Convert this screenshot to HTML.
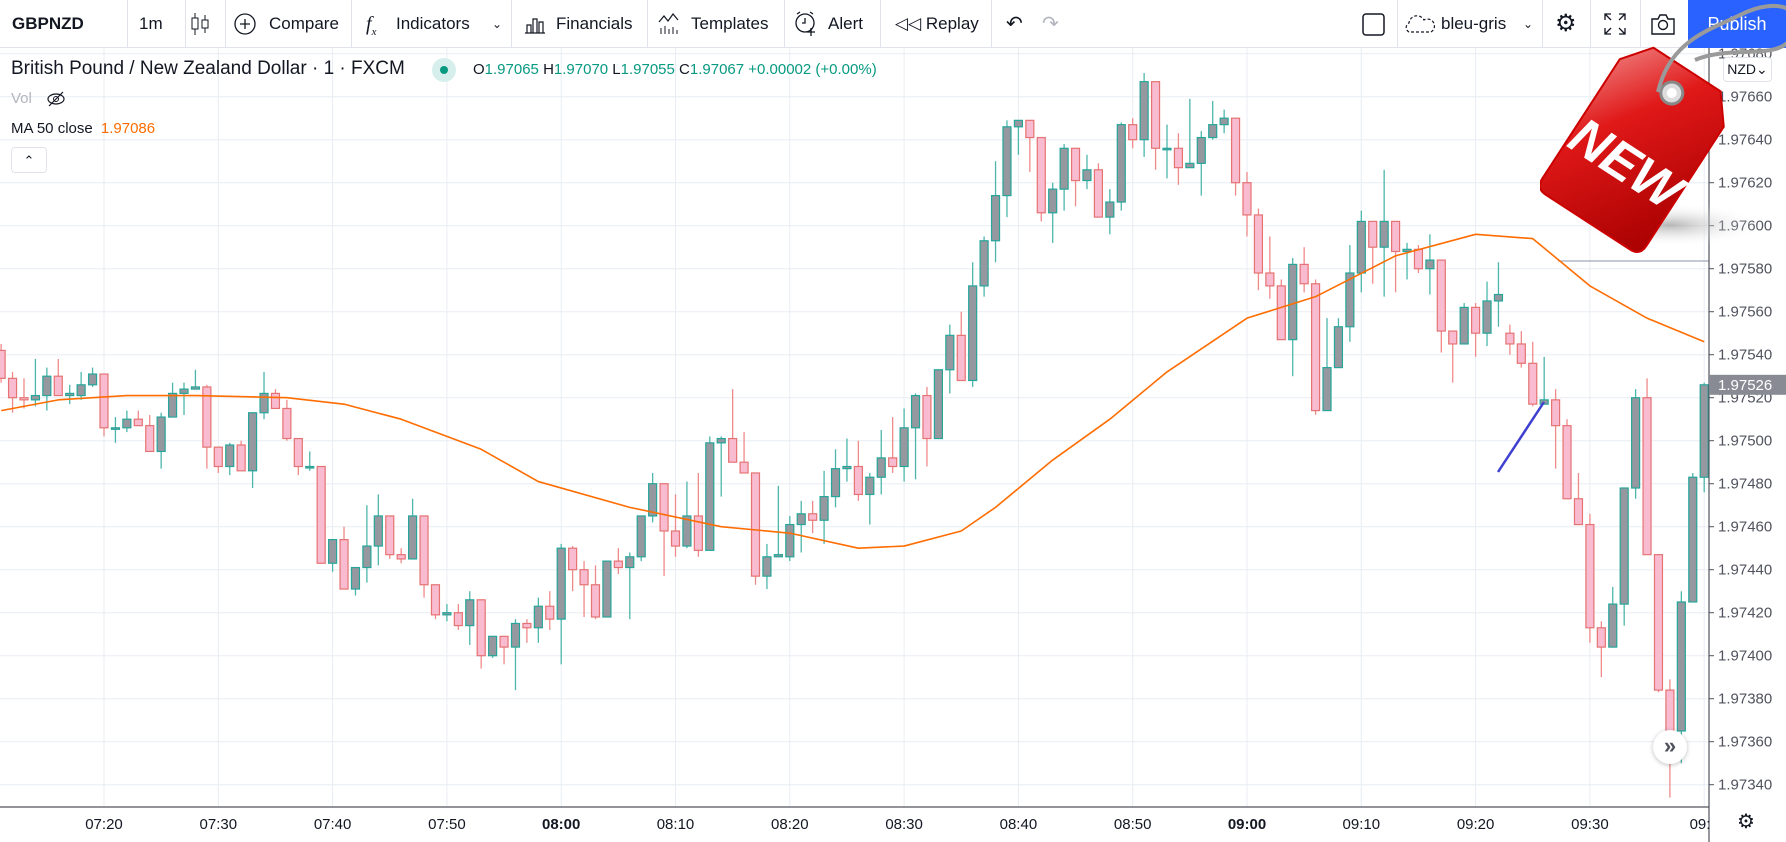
<!DOCTYPE html>
<html><head><meta charset="utf-8"><style>
*{margin:0;padding:0;box-sizing:border-box}
body{width:1786px;height:842px;overflow:hidden;background:#fff;font-family:"Liberation Sans",sans-serif;position:relative;color:#131722}
#toolbar{position:absolute;left:0;top:0;width:1786px;height:48px;border-bottom:1px solid #e0e3eb;background:#fff}
.tb{position:absolute;top:0;height:48px;line-height:48px;font-size:17px;color:#131722;white-space:nowrap}
.sep{position:absolute;top:0;width:1px;height:48px;background:#e0e3eb}
.lg{position:absolute;white-space:nowrap}
</style></head><body>
<div id="toolbar">
 <div class="tb" style="left:12px;font-weight:bold">GBPNZD</div>
 <div class="sep" style="left:127px"></div>
 <div class="tb" style="left:139px">1m</div>
 <div class="sep" style="left:185px"></div>
 <svg class="tb" style="left:190px;top:12px;height:24px" width="20" height="24"><line x1="5" y1="1" x2="5" y2="23" stroke="#131722"/><rect x="2" y="6" width="6" height="11" fill="#fff" stroke="#131722"/><line x1="15" y1="3" x2="15" y2="21" stroke="#131722"/><rect x="12" y="8" width="6" height="8" fill="#fff" stroke="#131722"/></svg>
 <div class="sep" style="left:225px"></div>
 <svg class="tb" style="left:234px;top:13px;height:22px" width="22" height="22"><circle cx="11" cy="11" r="10" fill="none" stroke="#131722" stroke-width="1.3"/><path d="M11 6v10M6 11h10" stroke="#131722" stroke-width="1.3"/></svg>
 <div class="tb" style="left:269px">Compare</div>
 <div class="sep" style="left:351px"></div>
 <div class="tb" style="left:366px;font-style:italic;font-family:'Liberation Serif',serif;font-size:20px">f<sub style="font-size:11px">x</sub></div>
 <div class="tb" style="left:396px">Indicators</div>
 <div class="tb" style="left:492px;font-size:12px">&#8964;</div>
 <div class="sep" style="left:511px"></div>
 <svg class="tb" style="left:524px;top:14px;height:20px" width="22" height="20"><path d="M1 19h20M3 19V11h4v8M9 19V5h4v14M15 19V8h4v11" fill="none" stroke="#131722" stroke-width="1.2"/></svg>
 <div class="tb" style="left:556px">Financials</div>
 <div class="sep" style="left:647px"></div>
 <svg class="tb" style="left:658px;top:12px;height:24px" width="22" height="24"><path d="M1 10l5-6 4 5 5-7 5 6" fill="none" stroke="#131722" stroke-width="1.2"/><path d="M3 22v-6M7 22v-8M11 22v-5M15 22v-7M19 22v-4" stroke="#131722"/></svg>
 <div class="tb" style="left:691px">Templates</div>
 <div class="sep" style="left:784px"></div>
 <svg class="tb" style="left:794px;top:11px;height:26px" width="24" height="26"><circle cx="11" cy="12" r="9" fill="none" stroke="#131722" stroke-width="1.3"/><path d="M11 7v5h-3M3 3l3-2M19 3l-3-2M17 17v8M13 21h8" stroke="#131722" stroke-width="1.3" fill="none"/></svg>
 <div class="tb" style="left:828px">Alert</div>
 <div class="sep" style="left:880px"></div>
 <div class="tb" style="left:895px">&#9665;&#9665; Replay</div>
 <div class="sep" style="left:991px"></div>
 <div class="tb" style="left:1006px;font-size:20px">&#8630;</div>
 <div class="tb" style="left:1042px;font-size:20px;color:#b2b5be">&#8631;</div>
 <svg class="tb" style="left:1362px;top:13px;height:23px" width="23" height="23"><rect x="1" y="1" width="21" height="21" rx="3" fill="none" stroke="#131722" stroke-width="1.5"/></svg>
 <div class="sep" style="left:1397px"></div>
 <svg class="tb" style="left:1404px;top:14px;height:20px" width="32" height="20"><path d="M5 18a5 5 0 0 1 0-9a8 8 0 0 1 15-3a6 6 0 0 1 7 12z" fill="none" stroke="#131722" stroke-width="1.2" stroke-dasharray="3 2"/></svg>
 <div class="tb" style="left:1441px">bleu-gris</div>
 <div class="tb" style="left:1523px;font-size:12px">&#8964;</div>
 <div class="sep" style="left:1542px"></div>
 <div class="tb" style="left:1555px;font-size:24px">&#9881;</div>
 <div class="sep" style="left:1590px"></div>
 <svg class="tb" style="left:1604px;top:13px;height:22px" width="22" height="22"><path d="M1 7V1h6M15 1h6v6M21 15v6h-6M7 21H1v-6M1 1l6 6M21 1l-6 6M21 21l-6-6M1 21l6-6" fill="none" stroke="#131722" stroke-width="1.3"/></svg>
 <div class="sep" style="left:1640px"></div>
 <svg class="tb" style="left:1650px;top:12px;height:24px" width="26" height="24"><path d="M2 7h6l2-4h6l2 4h6v15H2z" fill="none" stroke="#131722" stroke-width="1.4"/><circle cx="13" cy="13" r="4.5" fill="none" stroke="#131722" stroke-width="1.4"/></svg>
 <div class="tb" style="left:1688px;width:98px;background:#2962ff;color:#fff;text-align:center;font-size:18px">Publish</div>
</div>

<svg id="chart" width="1786" height="794" style="position:absolute;left:0;top:48px" viewBox="0 48 1786 794">
 <defs><clipPath id="plotclip"><rect x="0" y="48" width="1709" height="759"/></clipPath></defs>
 <g id="grid"></g>
 <g id="plot" clip-path="url(#plotclip)"></g>
 <g id="yaxis"></g>
 <g id="xaxis"></g>
</svg>

<div class="lg" style="left:11px;top:58px;font-size:19px;color:#131722">British Pound / New Zealand Dollar · 1 · FXCM</div>
<div class="lg" style="left:432px;top:58px;width:24px;height:24px;border-radius:12px;background:#d6efec"><div style="position:absolute;left:8px;top:8px;width:8px;height:8px;border-radius:4px;background:#089981"></div></div>
<div class="lg" style="left:473px;top:61px;font-size:15px;color:#089981"><span style="color:#131722">O</span>1.97065 <span style="color:#131722">H</span>1.97070 <span style="color:#131722">L</span>1.97055 <span style="color:#131722">C</span>1.97067 +0.00002 (+0.00%)</div>
<div class="lg" style="left:11px;top:90px;font-size:15px;color:#b2b5be">Vol</div>
<svg class="lg" style="left:46px;top:90px" width="20" height="18"><ellipse cx="10" cy="9" rx="8" ry="5" fill="none" stroke="#131722" stroke-width="1.2"/><circle cx="10" cy="9" r="2.5" fill="none" stroke="#131722"/><line x1="3" y1="16" x2="17" y2="2" stroke="#131722" stroke-width="1.2"/></svg>
<div class="lg" style="left:11px;top:120px;font-size:15px;color:#131722">MA 50 close <span style="color:#ff6d00;margin-left:4px">1.97086</span></div>
<div class="lg" style="left:11px;top:147px;width:36px;height:26px;border:1px solid #e0e3eb;border-radius:4px;text-align:center;font-size:13px;line-height:26px">&#8963;</div>
<div class="lg" style="left:1723px;top:57px;width:49px;height:25px;border:1px solid #e0e3eb;border-radius:4px;background:#fff;font-size:14px;line-height:23px;text-align:center;color:#131722">NZD&#8964;</div>
<div class="lg" style="left:1653px;top:730px;width:34px;height:34px;border-radius:17px;background:#fff;box-shadow:0 1px 5px rgba(0,0,0,.25);text-align:center;line-height:32px;font-size:22px;color:#50535e;font-weight:bold">»</div>
<div class="lg" style="left:1737px;top:809px;font-size:20px;color:#131722">&#9881;</div>

<svg class="lg" style="left:1540px;top:0" width="246" height="260">
 <defs><linearGradient id="tg" x1="0" y1="0" x2="1" y2="1"><stop offset="0" stop-color="#f08080"/><stop offset="0.35" stop-color="#e01818"/><stop offset="1" stop-color="#a80000"/></linearGradient>
 <radialGradient id="sh"><stop offset="0" stop-color="#999" stop-opacity=".7"/><stop offset="1" stop-color="#fff" stop-opacity="0"/></radialGradient></defs>
 <ellipse cx="130" cy="225" rx="95" ry="22" fill="url(#sh)"/>
 <g transform="translate(98,145) rotate(33)">
  <path d="M-40 -90 L40 -90 L62 -62 L62 80 Q62 92 50 92 L-50 92 Q-62 92 -62 80 L-62 -62 Z" fill="url(#tg)" stroke="#c00" stroke-width="2"/>
  <circle cx="0" cy="-62" r="11" fill="#ddd" stroke="#888" stroke-width="3"/>
  <circle cx="0" cy="-62" r="5" fill="#fff"/>
  <text x="0" y="40" text-anchor="middle" font-family="Liberation Sans,sans-serif" font-weight="bold" font-style="italic" font-size="52" fill="#fff">NEW</text>
 </g>
 <path d="M118 92 C130 40 170 30 200 15 C240 -5 270 10 250 40 C235 60 190 45 155 60" fill="none" stroke="#9a9a9a" stroke-width="4"/>
</svg>

<script>
// ---- chart data ----
const startMinute = 11; // minutes after 07:00 of first candle
const openPrices = [1.97542,1.97529,1.97520,1.97519,1.97521,1.97530,1.97521,1.97521,1.97526,1.97531,1.97506,1.97506,1.97510,1.97507,1.97495,1.97511,1.97522,1.97524,1.97525,1.97497,1.97488,1.97498,1.97486,1.97513,1.97522,1.97515,1.97501,1.97488,1.97488,1.97443,1.97454,1.97431,1.97441,1.97451,1.97465,1.97447,1.97445,1.97465,1.97433,1.97419,1.97420,1.97414,1.97426,1.97400,1.97409,1.97404,1.97415,1.97413,1.97423,1.97417,1.97450,1.97440,1.97433,1.97418,1.97444,1.97441,1.97446,1.97465,1.97480,1.97458,1.97451,1.97465,1.97449,1.97499,1.97501,1.97490,1.97485,1.97437,1.97446,1.97446,1.97461,1.97466,1.97463,1.97474,1.97487,1.97488,1.97475,1.97483,1.97492,1.97488,1.97506,1.97521,1.97501,1.97533,1.97549,1.97528,1.97572,1.97593,1.97614,1.97646,1.97649,1.97641,1.97606,1.97617,1.97636,1.97621,1.97626,1.97604,1.97611,1.97647,1.97640,1.97667,1.97636,1.97636,1.97627,1.97629,1.97641,1.97647,1.97650,1.97620,1.97605,1.97578,1.97572,1.97547,1.97582,1.97573,1.97514,1.97534,1.97553,1.97578,1.97602,1.97590,1.97602,1.97588,1.97589,1.97580,1.97584,1.97551,1.97545,1.97562,1.97550,1.97565,1.97550,1.97545,1.97536,1.97517,1.97519,1.97507,1.97473,1.97461,1.97413,1.97404,1.97424,1.97478,1.97520,1.97447,1.97384,1.97365,1.97425,1.97483];
const highPrices = [1.97545,1.97532,1.97529,1.97538,1.97534,1.97538,1.97526,1.97532,1.97534,1.97531,1.97511,1.97514,1.97514,1.97512,1.97513,1.97527,1.97527,1.97533,1.97526,1.97497,1.97499,1.97500,1.97513,1.97532,1.97524,1.97519,1.97501,1.97495,1.97488,1.97454,1.97460,1.97441,1.97470,1.97475,1.97465,1.97450,1.97473,1.97465,1.97433,1.97424,1.97424,1.97430,1.97426,1.97409,1.97409,1.97417,1.97417,1.97427,1.97430,1.97452,1.97451,1.97444,1.97442,1.97444,1.97450,1.97448,1.97465,1.97485,1.97480,1.97475,1.97481,1.97485,1.97502,1.97502,1.97524,1.97504,1.97485,1.97452,1.97479,1.97465,1.97472,1.97472,1.97486,1.97496,1.97501,1.97500,1.97485,1.97505,1.97511,1.97515,1.97522,1.97525,1.97533,1.97554,1.97560,1.97583,1.97595,1.97630,1.97649,1.97649,1.97649,1.97641,1.97620,1.97638,1.97636,1.97633,1.97629,1.97617,1.97648,1.97650,1.97671,1.97667,1.97647,1.97643,1.97659,1.97644,1.97658,1.97654,1.97650,1.97625,1.97608,1.97595,1.97575,1.97585,1.97590,1.97575,1.97557,1.97557,1.97591,1.97607,1.97602,1.97626,1.97602,1.97592,1.97591,1.97596,1.97584,1.97551,1.97564,1.97564,1.97574,1.97583,1.97554,1.97551,1.97546,1.97539,1.97524,1.97510,1.97485,1.97466,1.97416,1.97432,1.97478,1.97524,1.97529,1.97447,1.97389,1.97430,1.97485,1.97527];
const lowPrices = [1.97527,1.97513,1.97515,1.97516,1.97514,1.97521,1.97517,1.97519,1.97525,1.97502,1.97499,1.97504,1.97507,1.97495,1.97487,1.97511,1.97512,1.97524,1.97487,1.97485,1.97484,1.97486,1.97478,1.97510,1.97515,1.97500,1.97484,1.97486,1.97443,1.97439,1.97431,1.97428,1.97434,1.97442,1.97445,1.97443,1.97445,1.97427,1.97417,1.97416,1.97412,1.97405,1.97394,1.97399,1.97396,1.97384,1.97406,1.97406,1.97412,1.97396,1.97430,1.97418,1.97417,1.97418,1.97438,1.97417,1.97444,1.97462,1.97437,1.97446,1.97450,1.97446,1.97449,1.97474,1.97490,1.97485,1.97433,1.97431,1.97446,1.97444,1.97448,1.97457,1.97452,1.97469,1.97481,1.97472,1.97461,1.97475,1.97485,1.97481,1.97482,1.97488,1.97501,1.97522,1.97528,1.97525,1.97567,1.97583,1.97604,1.97633,1.97625,1.97602,1.97592,1.97607,1.97609,1.97617,1.97604,1.97596,1.97607,1.97636,1.97632,1.97626,1.97622,1.97619,1.97627,1.97614,1.97640,1.97643,1.97614,1.97595,1.97570,1.97566,1.97547,1.97530,1.97569,1.97512,1.97514,1.97534,1.97546,1.97569,1.97573,1.97567,1.97569,1.97575,1.97578,1.97568,1.97541,1.97527,1.97545,1.97539,1.97544,1.97553,1.97540,1.97534,1.97516,1.97517,1.97487,1.97473,1.97461,1.97406,1.97390,1.97404,1.97414,1.97473,1.97447,1.97383,1.97334,1.97350,1.97425,1.97476];
const closePrices = [1.97529,1.97520,1.97519,1.97521,1.97530,1.97521,1.97522,1.97526,1.97531,1.97506,1.97506,1.97510,1.97507,1.97495,1.97511,1.97522,1.97524,1.97525,1.97497,1.97488,1.97498,1.97486,1.97513,1.97522,1.97515,1.97501,1.97488,1.97488,1.97443,1.97454,1.97431,1.97441,1.97451,1.97465,1.97447,1.97445,1.97465,1.97433,1.97419,1.97420,1.97414,1.97426,1.97400,1.97409,1.97404,1.97415,1.97413,1.97423,1.97417,1.97450,1.97440,1.97433,1.97418,1.97444,1.97441,1.97446,1.97465,1.97480,1.97458,1.97451,1.97465,1.97449,1.97499,1.97501,1.97490,1.97485,1.97437,1.97446,1.97447,1.97461,1.97466,1.97463,1.97474,1.97487,1.97488,1.97475,1.97483,1.97492,1.97488,1.97506,1.97521,1.97501,1.97533,1.97549,1.97528,1.97572,1.97593,1.97614,1.97646,1.97649,1.97641,1.97606,1.97617,1.97636,1.97621,1.97626,1.97604,1.97611,1.97647,1.97640,1.97667,1.97636,1.97636,1.97627,1.97629,1.97641,1.97647,1.97650,1.97620,1.97605,1.97578,1.97572,1.97547,1.97582,1.97573,1.97514,1.97534,1.97553,1.97578,1.97602,1.97590,1.97602,1.97588,1.97589,1.97580,1.97584,1.97551,1.97545,1.97562,1.97550,1.97565,1.97568,1.97545,1.97536,1.97517,1.97519,1.97507,1.97473,1.97461,1.97413,1.97404,1.97424,1.97478,1.97520,1.97447,1.97384,1.97365,1.97425,1.97483,1.97526];
const maMinutes = [11,16,22,28,36,41,46,53,58,66,74,80,86,90,95,98,103,108,113,120,126,133,140,145,150,155,160];
const maValues = [1.97514,1.97519,1.97521,1.97521,1.97520,1.97517,1.97510,1.97496,1.97481,1.97469,1.97460,1.97457,1.97450,1.97451,1.97458,1.97469,1.97491,1.97510,1.97532,1.97557,1.97567,1.97586,1.97596,1.97594,1.97572,1.97557,1.97546];
const priceTicks = [1.97340,1.97360,1.97380,1.97400,1.97420,1.97440,1.97460,1.97480,1.97500,1.97520,1.97540,1.97560,1.97580,1.97600,1.97620,1.97640,1.97660,1.97680];
const timeTickMinutes = [20,30,40,50,60,70,80,90,100,110,120,130,140,150,160];
const timeTickLabels = ["07:20","07:30","07:40","07:50","08:00","08:10","08:20","08:30","08:40","08:50","09:00","09:10","09:20","09:30","09:4"];
const lastPrice = 1.97526;

// ---- axis functions ----
const NS = "http://www.w3.org/2000/svg";
function xOf(m){ return 1247 + (m - 120) * 11.43; }
function yOf(p){ return 311.7 + (1.97560 - p) * 215000; }
function mk(tag, attrs, parent){ const e = document.createElementNS(NS, tag); for (const k in attrs) e.setAttribute(k, attrs[k]); parent.appendChild(e); return e; }

const grid = document.getElementById('grid'), plot = document.getElementById('plot');
const yaxis = document.getElementById('yaxis'), xaxis = document.getElementById('xaxis');
const PR = 1709, PB = 807;

priceTicks.forEach(p => {
  const y = yOf(p);
  const gl = mk('line', {x1:0, x2:PR, y1:y, y2:y, stroke:'#e8edf3', 'stroke-width':1}, grid);
  
  
  mk('line', {x1:PR, x2:PR+5, y1:y, y2:y, stroke:'#50535e'}, yaxis);
  const t = mk('text', {x:1718, y:y+5, 'font-size':15, fill:'#50535e', 'font-family':'Liberation Sans, sans-serif'}, yaxis);
  t.textContent = p.toFixed(5);
  
  
});
timeTickMinutes.forEach((m, i) => {
  const x = xOf(m);
  const gl = mk('line', {x1:x, x2:x, y1:48, y2:PB, stroke:'#e8edf3', 'stroke-width':1}, grid);
  
  
  const bold = timeTickLabels[i] === '08:00' || timeTickLabels[i] === '09:00';
  const t = mk('text', {x:x, y:829, 'text-anchor':'middle', 'font-size':15, fill:'#131722', 'font-weight': bold ? 'bold' : 'normal', 'font-family':'Liberation Sans, sans-serif'}, xaxis);
  t.textContent = timeTickLabels[i];
  
  
});
mk('rect', {x:PR+1, y:PB-2, width:80, height:40, fill:'#fff'}, xaxis);
mk('line', {x1:PR, x2:PR, y1:48, y2:842, stroke:'#50535e', 'stroke-width':1.2}, yaxis);
mk('line', {x1:0, x2:PR, y1:PB, y2:PB, stroke:'#50535e', 'stroke-width':1.2}, xaxis);

const hl = mk('line', {x1:1558, x2:PR, y1:261, y2:261, stroke:'#8a93a8', 'stroke-width':1}, plot);



openPrices.forEach((o, i) => {
  const m = startMinute + i, x = xOf(m);
  const c = closePrices[i], h = highPrices[i], l = lowPrices[i];
  const up = c >= o;
  const g = mk('g', {}, plot);
  
  
  mk('line', {x1:x, x2:x, y1:yOf(h), y2:yOf(l), stroke: up ? '#4db6ac' : '#ef8a8a', 'stroke-width':1.3}, g);
  const top = yOf(Math.max(o, c)), bot = yOf(Math.min(o, c));
  mk('rect', {x:x-4, y:top, width:8, height:Math.max(bot-top, 1.5), fill: up ? '#95989f' : '#f8bbd0', stroke: up ? '#26a69a' : '#e57373', 'stroke-width':1.2}, g);
});

const ma = mk('polyline', {points: maMinutes.map((m, i) => xOf(m) + ',' + yOf(maValues[i])).join(' '), fill:'none', stroke:'#ff6d00', 'stroke-width':1.6, 'stroke-linejoin':'round'}, plot);



const tl = mk('line', {x1:1498, y1:472, x2:1544, y2:402, stroke:'#3f3fd0', 'stroke-width':2.5}, plot);



const ly = yOf(lastPrice);
const lb = mk('rect', {x:PR, y:ly-10, width:77, height:20, fill:'#888b93'}, yaxis);


const lt = mk('text', {x:1718, y:ly+5, 'font-size':15, fill:'#fff', 'font-family':'Liberation Sans, sans-serif'}, yaxis);
lt.textContent = lastPrice.toFixed(5);


</script>
</body></html>
